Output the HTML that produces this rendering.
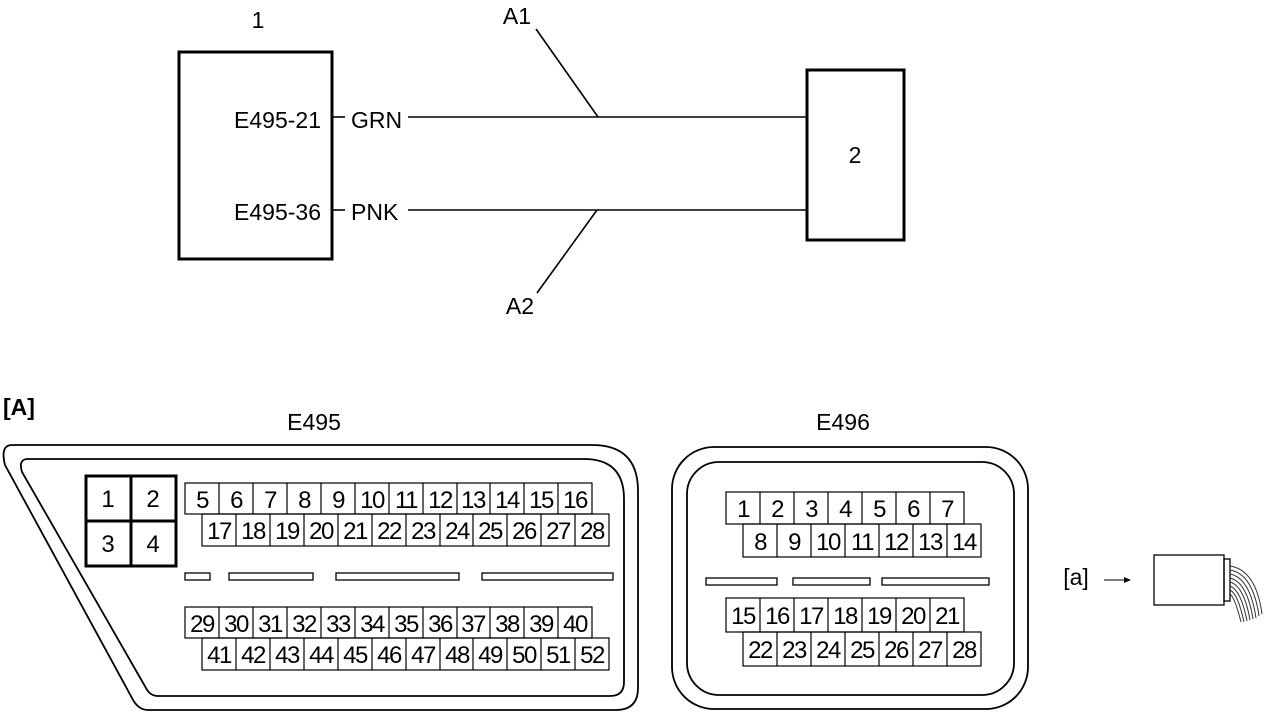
<!DOCTYPE html>
<html><head><meta charset="utf-8"><style>
html,body{margin:0;padding:0;background:#fff;}
svg{display:block;font-family:"Liberation Sans",Arial,sans-serif;}
.c text{font-size:24px;text-anchor:middle;}
</style></head><body>
<svg width="1264" height="713" viewBox="0 0 1264 713" xmlns="http://www.w3.org/2000/svg">
<g fill="none" stroke="#000">
<rect x="179" y="52" width="153" height="207" stroke-width="3"/>
<rect x="807" y="70" width="97" height="170" stroke-width="3"/>
<g stroke-width="1.6">
<line x1="333" y1="117" x2="345" y2="117"/>
<line x1="408" y1="117" x2="807" y2="117"/>
<line x1="333" y1="210" x2="345" y2="210"/>
<line x1="408" y1="210" x2="807" y2="210"/>
<line x1="536" y1="29" x2="598" y2="117"/>
<line x1="597" y1="210" x2="537" y2="293"/>
</g>
<path d="M12,445 L592,445 Q638,445 638,491 L638,688 Q638,710 616,710 L148,710 Q138,710 132,698 L5,465 Q0,445 12,445 Z" stroke-width="1.8"/>
<path d="M28,459 L584,459 Q624,459 624,499 L624,682 Q624,696 610,696 L158,696 Q150,696 146,688 L22,472 Q18,459 28,459 Z" stroke-width="1.8"/>
<rect x="672" y="447" width="356" height="262" rx="42" stroke-width="1.8"/>
<rect x="687" y="462" width="327" height="233" rx="32" stroke-width="1.8"/>
<rect x="86" y="476" width="90" height="90" stroke-width="3"/>
<line x1="131" y1="476" x2="131" y2="566" stroke-width="3"/>
<line x1="86" y1="521" x2="176" y2="521" stroke-width="3"/>
<g stroke-width="1.3">
<rect x="185" y="573" width="25" height="7"/>
<rect x="229" y="573" width="84" height="7"/>
<rect x="336" y="573" width="123" height="7"/>
<rect x="482" y="573" width="131" height="7"/>
<rect x="706" y="578" width="71" height="7"/>
<rect x="793" y="578" width="77" height="7"/>
<rect x="882" y="578" width="107" height="7"/>
</g>
<line x1="1104" y1="580" x2="1124" y2="580" stroke-width="1"/>
<rect x="1154" y="555" width="70" height="50" stroke-width="1.3"/>
<rect x="1224" y="559" width="6" height="42" stroke-width="1.3"/>
<g stroke-width="1" stroke="#333">
<path d="M1230,566 Q1256,570 1262,614"/>
<path d="M1230,570 Q1253,574 1259,616"/>
<path d="M1230,574 Q1250,578 1256,618"/>
<path d="M1230,578 Q1247,582 1253,619"/>
<path d="M1230,582 Q1244,586 1250,620"/>
<path d="M1230,586 Q1241,590 1247,621"/>
<path d="M1230,590 Q1238,594 1244,622"/>
<path d="M1230,594 Q1235,598 1241,622"/>
</g>
</g>
<polygon points="1124,577 1131,580 1124,583" fill="#000"/>
<g font-size="23" fill="#000">
<text x="258" y="28" text-anchor="middle">1</text>
<text x="855" y="163" text-anchor="middle">2</text>
<text x="517" y="24" text-anchor="middle">A1</text>
<text x="520" y="314" text-anchor="middle">A2</text>
<text x="321" y="128" text-anchor="end">E495-21</text>
<text x="321" y="220" text-anchor="end">E495-36</text>
<text x="351" y="128">GRN</text>
<text x="351" y="220">PNK</text>
<text x="3" y="415" font-weight="bold">[A]</text>
<text x="314" y="430" text-anchor="middle">E495</text>
<text x="843" y="430" text-anchor="middle">E496</text>
<text x="1076" y="585" text-anchor="middle">[a]</text>
</g>
<g font-size="24" fill="#000" text-anchor="middle">
<text x="108" y="507">1</text>
<text x="153" y="507">2</text>
<text x="108" y="552">3</text>
<text x="153" y="552">4</text>
</g>
<g fill="none" stroke="#000" stroke-width="1.2">
<rect x="185" y="483" width="407" height="31"/>
<rect x="202" y="514" width="407" height="32"/>
<rect x="185" y="607" width="407" height="31"/>
<rect x="202" y="638" width="407" height="32"/>
<path d="M219,483v31M253,483v31M287,483v31M321,483v31M355,483v31M389,483v31M423,483v31M457,483v31M490,483v31M524,483v31M558,483v31"/>
<path d="M236,514v32M270,514v32M304,514v32M338,514v32M372,514v32M406,514v32M440,514v32M473,514v32M507,514v32M541,514v32M575,514v32"/>
<path d="M219,607v31M253,607v31M287,607v31M321,607v31M355,607v31M389,607v31M423,607v31M457,607v31M490,607v31M524,607v31M558,607v31"/>
<path d="M236,638v32M270,638v32M304,638v32M338,638v32M372,638v32M406,638v32M440,638v32M473,638v32M507,638v32M541,638v32M575,638v32"/>
<rect x="726" y="492" width="238" height="32"/>
<rect x="743" y="524" width="238" height="33"/>
<rect x="726" y="598" width="238" height="34"/>
<rect x="743" y="632" width="238" height="34"/>
<path d="M760,492v32M794,492v32M828,492v32M862,492v32M896,492v32M930,492v32"/>
<path d="M777,524v33M811,524v33M845,524v33M879,524v33M913,524v33M947,524v33"/>
<path d="M760,598v34M794,598v34M828,598v34M862,598v34M896,598v34M930,598v34"/>
<path d="M777,632v34M811,632v34M845,632v34M879,632v34M913,632v34M947,632v34"/>
</g>
<g class="c" fill="#000" letter-spacing="-1.5">
<text x="202" y="508">5</text><text x="236" y="508">6</text><text x="270" y="508">7</text><text x="304" y="508">8</text><text x="338" y="508">9</text><text x="372" y="508">10</text><text x="406" y="508">11</text><text x="440" y="508">12</text><text x="473" y="508">13</text><text x="507" y="508">14</text><text x="541" y="508">15</text><text x="575" y="508">16</text>
<text x="219" y="539">17</text><text x="253" y="539">18</text><text x="287" y="539">19</text><text x="321" y="539">20</text><text x="355" y="539">21</text><text x="389" y="539">22</text><text x="423" y="539">23</text><text x="457" y="539">24</text><text x="490" y="539">25</text><text x="524" y="539">26</text><text x="558" y="539">27</text><text x="592" y="539">28</text>
<text x="202" y="632">29</text><text x="236" y="632">30</text><text x="270" y="632">31</text><text x="304" y="632">32</text><text x="338" y="632">33</text><text x="372" y="632">34</text><text x="406" y="632">35</text><text x="440" y="632">36</text><text x="473" y="632">37</text><text x="507" y="632">38</text><text x="541" y="632">39</text><text x="575" y="632">40</text>
<text x="219" y="663">41</text><text x="253" y="663">42</text><text x="287" y="663">43</text><text x="321" y="663">44</text><text x="355" y="663">45</text><text x="389" y="663">46</text><text x="423" y="663">47</text><text x="457" y="663">48</text><text x="490" y="663">49</text><text x="524" y="663">50</text><text x="558" y="663">51</text><text x="592" y="663">52</text>
<text x="743" y="517">1</text><text x="777" y="517">2</text><text x="811" y="517">3</text><text x="845" y="517">4</text><text x="879" y="517">5</text><text x="913" y="517">6</text><text x="947" y="517">7</text>
<text x="760" y="550">8</text><text x="794" y="550">9</text><text x="828" y="550">10</text><text x="862" y="550">11</text><text x="896" y="550">12</text><text x="930" y="550">13</text><text x="964" y="550">14</text>
<text x="743" y="624">15</text><text x="777" y="624">16</text><text x="811" y="624">17</text><text x="845" y="624">18</text><text x="879" y="624">19</text><text x="913" y="624">20</text><text x="947" y="624">21</text>
<text x="760" y="658">22</text><text x="794" y="658">23</text><text x="828" y="658">24</text><text x="862" y="658">25</text><text x="896" y="658">26</text><text x="930" y="658">27</text><text x="964" y="658">28</text>
</g>
</svg>
</body></html>
